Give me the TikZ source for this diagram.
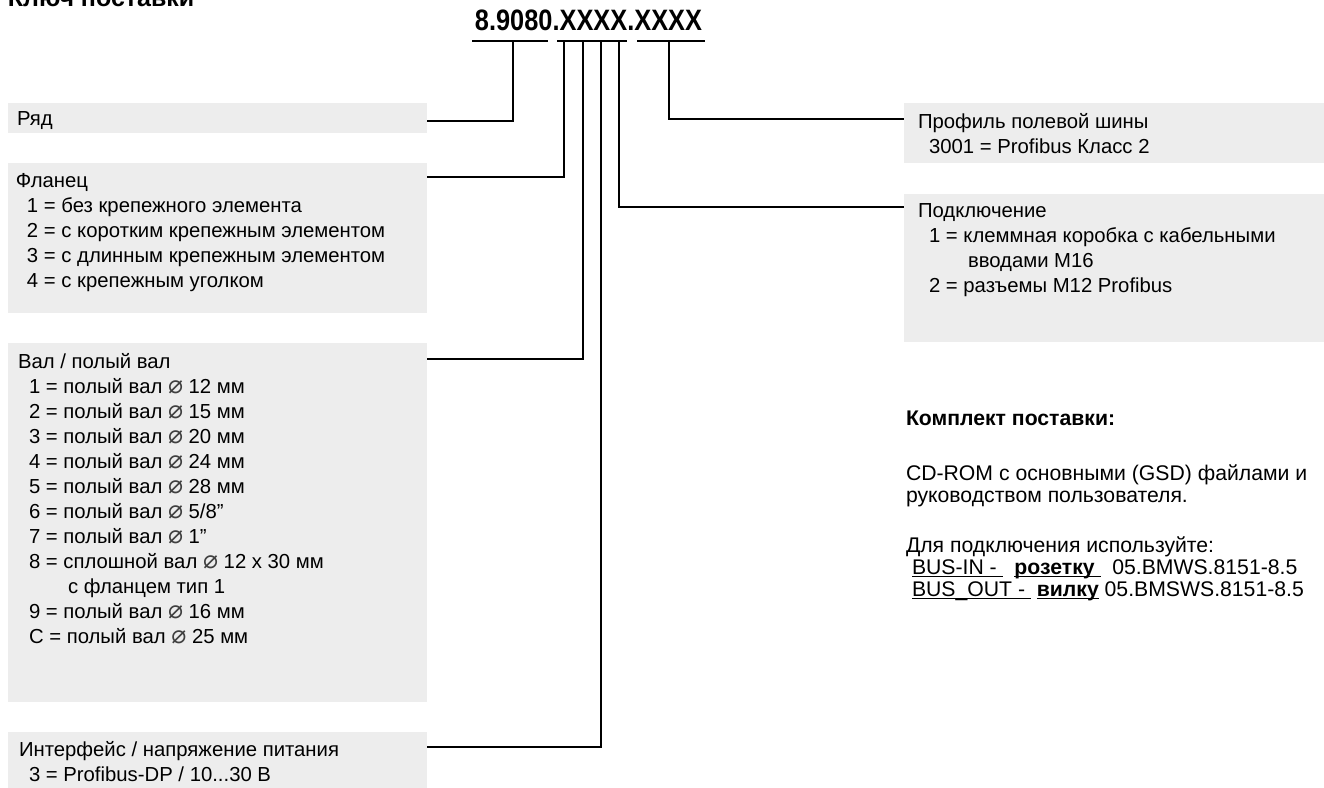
\documentclass[tikz,border=0pt]{standalone}
\usepackage{fontspec}
\setmainfont{Liberation Sans}
\newfontfamily\codefont[FakeStretch=0.86]{Liberation Sans}
\newfontfamily\symfont{DejaVu Sans}
\usetikzlibrary{positioning}
\definecolor{boxgray}{RGB}{237,237,237}
\newcommand{\dm}{{\symfont\fontsize{25}{25}\selectfont\color{black!75}⌀}}
\newcommand{\ul}[1]{\underline{\smash{#1}}}
\tikzset{every node/.style={inner sep=0pt,outer sep=0pt},
	infobox/.style={fill=boxgray,anchor=north west,minimum width=#1},
	infobox/.default=419pt,
	boxtext/.style={anchor=north west,align=left,font=\fontsize{20.3}{25}\selectfont},
	notetext/.style={anchor=north west,align=left,font=\fontsize{21.2}{22}\selectfont},
	lead/.style={line width=2.2pt},
	codebar/.style={line width=2.4pt}}

\begin{document}
\begin{tikzpicture}[x=1pt,y=-1pt]
	\useasboundingbox (0,0) rectangle (1324,787);
	% cut heading
	\node[anchor=base west,font=\bfseries\fontsize{25}{26}\selectfont] (head) at (8,6) {Ключ поставки};
	% type code
	\node[anchor=base,font=\codefont\bfseries\fontsize{29.5}{30}\selectfont] (code) at (588.5,30) {8.9080.XXXX.XXXX};
	\coordinate (g1w) at (472,41); \coordinate (g1e) at (548,41);
	\coordinate (g2w) at (557,41); \coordinate (g2e) at (627,41);
	\coordinate (g3w) at (637,41); \coordinate (g3e) at (705,41);
	\draw[codebar] (g1w) -- (g1e);
	\draw[codebar] (g2w) -- (g2e);
	\draw[codebar] (g3w) -- (g3e);
	\coordinate (tr) at (513,41);
	\coordinate (tf) at (564,41);
	\coordinate (tv) at (583,41);
	\coordinate (ti) at (601,41);
	\coordinate (tp) at (619,41);
	\coordinate (tb) at (669,41);
	% boxes left
	\node[infobox,minimum height=30pt] (ryad) at (8,103) {};
	\node[infobox,minimum height=150pt] (flanec) at (8,163) {};
	\node[infobox,minimum height=359pt] (val) at (8,343) {};
	\node[infobox,minimum height=60pt] (iface) at (8,732) {};
	% boxes right
	\node[infobox=425pt,minimum height=60pt] (profil) at (904,103) {};
	\node[infobox=425pt,minimum height=148pt] (podkl) at (904,194) {};
	% texts
	\node[boxtext] (ryadtext) at (17,107.5) {\strut Ряд};
	\node[boxtext] (flanectext) at (16,169.5) {\strut Фланец\\
		\hspace*{11pt}1 = без крепежного элемента\\
		\hspace*{11pt}2 = с коротким крепежным элементом\\
		\hspace*{11pt}3 = с длинным крепежным элементом\\
		\hspace*{11pt}4 = с крепежным уголком};
	\node[boxtext] (valtext) at (18,350.5) {\strut Вал / полый вал\\
		\hspace*{11pt}1 = полый вал \dm{} 12 мм\\
		\hspace*{11pt}2 = полый вал \dm{} 15 мм\\
		\hspace*{11pt}3 = полый вал \dm{} 20 мм\\
		\hspace*{11pt}4 = полый вал \dm{} 24 мм\\
		\hspace*{11pt}5 = полый вал \dm{} 28 мм\\
		\hspace*{11pt}6 = полый вал \dm{} 5/8”\\
		\hspace*{11pt}7 = полый вал \dm{} 1”\\
		\hspace*{11pt}8 = сплошной вал \dm{} 12 x 30 мм\\
		\hspace*{50pt}с фланцем тип 1\\
		\hspace*{11pt}9 = полый вал \dm{} 16 мм\\
		\hspace*{11pt}C = полый вал \dm{} 25 мм};
	\node[boxtext] (ifacetext) at (19,738.5) {\strut Интерфейс / напряжение питания\\
		\hspace*{10pt}3 = Profibus-DP / 10...30 В};
	\node[boxtext] (profiltext) at (918,110.5) {\strut Профиль полевой шины\\
		\hspace*{11pt}3001 = Profibus Класс 2};
	\node[boxtext] (podkltext) at (918,199.5) {\strut Подключение\\
		\hspace*{11pt}1 = клеммная коробка с кабельными\\
		\hspace*{50pt}вводами M16\\
		\hspace*{11pt}2 = разъемы M12 Profibus};
	% delivery note
	\node[notetext,font=\bfseries\fontsize{21.2}{22}\selectfont] (komplekt) at (906,409.6) {\strut Комплект поставки:};
	\node[notetext] (cdrom) at (906,464.6) {\strut CD-ROM с основными (GSD) файлами и\\
		руководством пользователя.};
	\node[notetext] (bus) at (906,536.6) {\strut Для подключения используйте:\\
		\hspace*{6pt}\ul{BUS-IN -\ }\ \ \ul{\textbf{розетку}\ }\ \ 05.BMWS.8151-8.5\\
		\hspace*{6pt}\ul{BUS\_OUT -\ }\ \ul{\textbf{вилку}}\ 05.BMSWS.8151-8.5};
	% leads
	\draw[lead] (tr) |- ([yshift=-18pt]ryad.north east);
	\draw[lead] (tf) |- ([yshift=-14pt]flanec.north east);
	\draw[lead] (tv) |- ([yshift=-16pt]val.north east);
	\draw[lead] (ti) |- ([yshift=-15pt]iface.north east);
	\draw[lead] (tp) |- ([yshift=-13pt]podkl.north west);
	\draw[lead] (tb) |- ([yshift=-16pt]profil.north west);
\end{tikzpicture}
\end{document}
